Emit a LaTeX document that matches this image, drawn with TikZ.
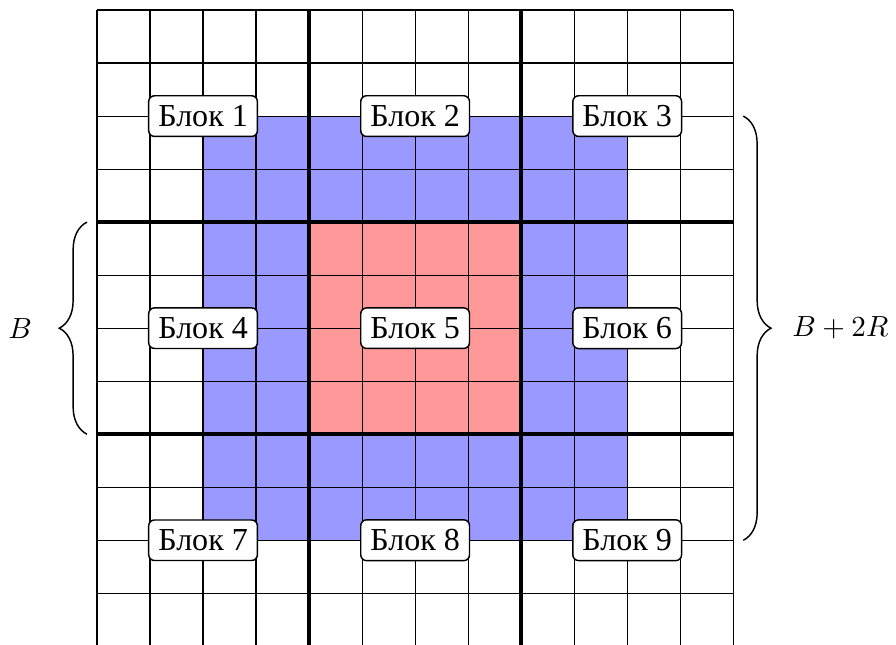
\documentclass[tikz,border=0pt]{standalone}
\usepackage{fontspec}
\setmainfont{Liberation Serif}
\usetikzlibrary{decorations.pathreplacing}

\begin{document}
\begin{tikzpicture}[
  x=0.64cm, y=0.64cm,
  blockbox/.style={
    draw=black, fill=white, rounded corners=2pt,
    inner sep=3.3pt, font=\fontsize{11}{13}\selectfont, line width=0.5pt
  },
  halo/.style={fill=blue!40},
  core/.style={fill=red!40},
  cellgrid/.style={black, line width=0.4pt},
  blockline/.style={black, line width=1.4pt},
  bracedeco/.style={decorate, decoration={brace, amplitude=9.5pt}, line width=0.5pt},
]
\useasboundingbox (-1.83,0.04) rectangle (15.07,12.19);

%% Coloured regions: block with its halo
\fill[halo] (2,2) rectangle (10,10);
\fill[core] (4,4) rectangle (8,8);

%% Cell grid and block borders
\foreach \i in {0,...,12} {
  \draw[cellgrid] (\i,0) -- (\i,12);
  \draw[cellgrid] (0,\i) -- (12,\i);
}
\foreach \i in {4,8} {
  \draw[blockline] (\i,0) -- (\i,12);
  \draw[blockline] (0,\i) -- (12,\i);
}

%% Block labels (top row, middle row, bottom row)
\node[blockbox] (b1) at (2, 10) {Блок 1};
\node[blockbox] (b2) at (6, 10) {Блок 2};
\node[blockbox] (b3) at (10,10) {Блок 3};
\node[blockbox] (b4) at (2,  6) {Блок 4};
\node[blockbox] (b5) at (6,  6) {Блок 5};
\node[blockbox] (b6) at (10, 6) {Блок 6};
\node[blockbox] (b7) at (2,  2) {Блок 7};
\node[blockbox] (b8) at (6,  2) {Блок 8};
\node[blockbox] (b9) at (10, 2) {Блок 9};

%% Braces with sizes
\coordinate (lbot) at (-0.19,4);
\coordinate (ltop) at (-0.19,8);
\coordinate (rtop) at (12.19,10);
\coordinate (rbot) at (12.19,2);
\draw[bracedeco] (lbot) -- (ltop);
\draw[bracedeco] (rtop) -- (rbot);

\node (bsize)  at (-1.45,6) {$B$};
\node (brsize) at (14.02,6) {$B+2R$};

\end{tikzpicture}
\end{document}
